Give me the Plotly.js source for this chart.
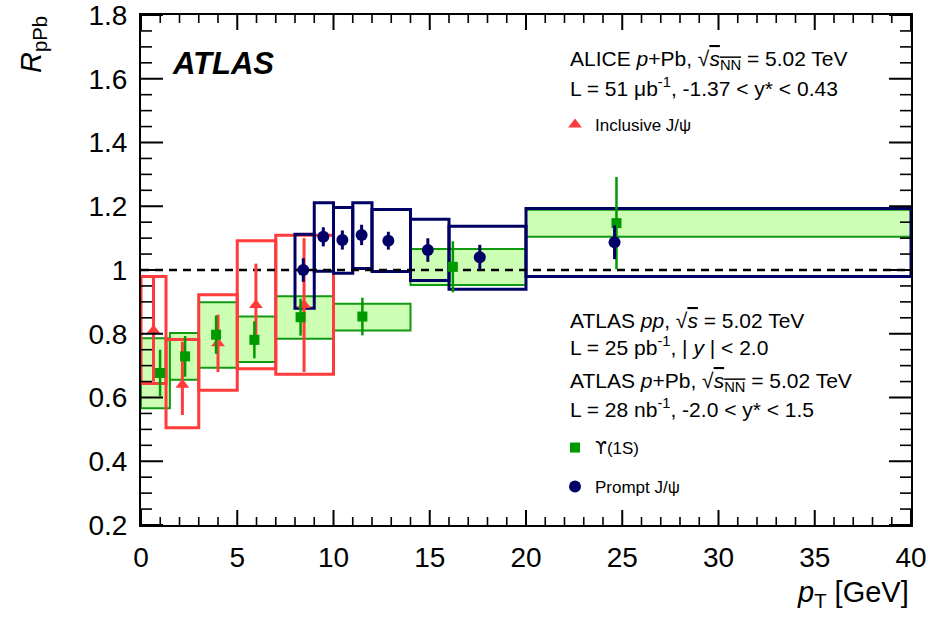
<!DOCTYPE html>
<html><head><meta charset="utf-8">
<script src="https://cdn.plot.ly/plotly-3.0.1.min.js"></script>
<style>body{margin:0;background:#fff}#chart{width:928px;height:618px}</style>
</head><body><div id="chart"></div>
<script>
// ALICE inclusive J/psi
const aliceX = [0.65, 2.15, 4.0, 5.97, 8.47];
const aliceY = [0.81, 0.64, 0.77, 0.89, 0.89];
const aliceErrUp = [0.17, 0.135, 0.09, 0.13, 0.21];
const aliceErrDn = [0.16, 0.095, 0.09, 0.125, 0.21];
const aliceBinLo = [0, 1.3, 3, 5, 7];
const aliceBinHi = [1.3, 3, 5, 7, 10];
const aliceSysHi = [0.98, 0.782, 0.922, 1.092, 1.109];
const aliceSysLo = [0.644, 0.505, 0.623, 0.69, 0.673];

// ATLAS Upsilon(1S)
const upsX = [0.99, 2.29, 3.9, 5.89, 8.29, 11.5, 16.2, 24.7];
const upsY = [0.677, 0.729, 0.797, 0.781, 0.852, 0.854, 1.01, 1.147];
const upsErr = [0.073, 0.064, 0.06, 0.058, 0.058, 0.059, 0.08, 0.145];
const upsBinLo = [0, 1.5, 3, 5, 7, 10, 14, 20];
const upsBinHi = [1.5, 3, 5, 7, 10, 14, 20, 40];
const upsSysHi = [0.786, 0.802, 0.899, 0.854, 0.918, 0.894, 1.066, 1.189];
const upsSysLo = [0.566, 0.656, 0.693, 0.711, 0.784, 0.81, 0.953, 1.104];

// ATLAS prompt J/psi
const jpsiX = [8.43, 9.47, 10.46, 11.46, 12.85, 14.9, 17.6, 24.6];
const jpsiY = [1.0, 1.104, 1.094, 1.11, 1.092, 1.0625, 1.04, 1.087];
const jpsiErr = [0.037, 0.03, 0.03, 0.032, 0.028, 0.037, 0.039, 0.053];
const jpsiBinLo = [8, 9, 10, 11, 12, 14, 16, 20];
const jpsiBinHi = [9, 10, 11, 12, 14, 16, 20, 40];
const jpsiSysHi = [1.1125, 1.211, 1.196, 1.211, 1.19, 1.159, 1.137, 1.193];
const jpsiSysLo = [0.88, 0.996, 0.99, 1.005, 0.995, 0.967, 0.94, 0.98];

// axes: tick values
const xMajorTicks = [0, 5, 10, 15, 20, 25, 30, 35, 40];
const xMinorTicks = [1, 2, 3, 4, 6, 7, 8, 9, 11, 12, 13, 14, 16, 17, 18, 19, 21, 22, 23, 24,
                     26, 27, 28, 29, 31, 32, 33, 34, 36, 37, 38, 39];
const yMajorTicks = [0.2, 0.4, 0.6, 0.8, 1, 1.2, 1.4, 1.6, 1.8];
const yMinorTicks = [0.25, 0.3, 0.35, 0.45, 0.5, 0.55, 0.65, 0.7, 0.75, 0.85, 0.9, 0.95,
                     1.05, 1.1, 1.15, 1.25, 1.3, 1.35, 1.45, 1.5, 1.55, 1.65, 1.7, 1.75];

const referenceY = 1;
const xRange = [0, 40];
const yRange = [0.2, 1.8000001];

const FONT = '"Liberation Sans", Arial, Helvetica, sans-serif';
const RED = '#ff3b3b', GREEN = '#119911', GREENFILL = '#ccffb3', NAVY = '#000066';

const L = 141, R = 17, T = 15, B = 93, W = 928, H = 618;
const pw = W - L - R, ph = H - T - B;
const px = v => (v - L) / pw;
const py = v => (H - B - v) / ph;

function boxes(lo, hi, top, bot, line, fill, width) {
  return lo.map((x0, i) => ({
    type: 'rect', xref: 'x', yref: 'y', layer: 'below',
    x0: x0, x1: hi[i], y0: bot[i], y1: top[i],
    line: {color: line, width: width},
    fillcolor: fill
  }));
}

const shapes = [].concat(
  boxes(upsBinLo, upsBinHi, upsSysHi, upsSysLo, GREEN, GREENFILL, 2),
  boxes(aliceBinLo, aliceBinHi, aliceSysHi, aliceSysLo, RED, 'rgba(0,0,0,0)', 3),
  boxes(jpsiBinLo, jpsiBinHi, jpsiSysHi, jpsiSysLo, NAVY, 'rgba(0,0,0,0)', 3),
  [{type: 'line', xref: 'x', yref: 'y', layer: 'below', x0: xRange[0], x1: xRange[1],
    y0: referenceY, y1: referenceY, line: {color: '#000', width: 2.5, dash: '8px,6px'}}]
);

// tick marks on all four sides (pointing into the frame), drawn as line segments
function tickTrace(xVals, yVals, xLenPx, yLenPx, width) {
  const dy = yLenPx / ph * (1.8 - yRange[0]);
  const dx = xLenPx / pw * (xRange[1] - xRange[0]);
  const xs = [], ys = [];
  xVals.forEach(v => {
    xs.push(v, v, null, v, v, null);
    ys.push(yRange[0], yRange[0] + dy, null, 1.8, 1.8 - dy, null);
  });
  yVals.forEach(v => {
    xs.push(xRange[0], xRange[0] + dx, null, xRange[1], xRange[1] - dx, null);
    ys.push(v, v, null, v, v, null);
  });
  return {x: xs, y: ys, type: 'scatter', mode: 'lines', showlegend: false, hoverinfo: 'skip',
          connectgaps: false, line: {color: '#000', width: width}};
}

const traces = [
  {x: aliceX, y: aliceY, type: 'scatter', mode: 'markers', name: 'Inclusive J/ψ',
   legend: 'legend',
   marker: {symbol: 'triangle-up', size: 12, color: RED},
   error_y: {type: 'data', symmetric: false, array: aliceErrUp, arrayminus: aliceErrDn,
             color: RED, thickness: 3, width: 0}},
  {x: upsX, y: upsY, type: 'scatter', mode: 'markers',
   name: '<span style="font-family:DejaVu Sans">ϒ</span>(1S)',
   legend: 'legend2',
   marker: {symbol: 'square', size: 10, color: '#009900'},
   error_y: {type: 'data', array: upsErr, color: '#009900', thickness: 2.5, width: 0}},
  {x: jpsiX, y: jpsiY, type: 'scatter', mode: 'markers', name: 'Prompt J/ψ',
   legend: 'legend3',
   marker: {symbol: 'circle', size: 12, color: NAVY},
   error_y: {type: 'data', array: jpsiErr, color: NAVY, thickness: 3, width: 0}},
  tickTrace(xMajorTicks, yMajorTicks, 22, 15, 2),
  tickTrace(xMinorTicks, yMinorTicks, 11, 8, 1.6)
];

function txt(text, xp, yp, size, extra) {
  return Object.assign({text: text, xref: 'paper', yref: 'paper', x: px(xp), y: py(yp),
    xanchor: 'left', yanchor: 'middle', showarrow: false,
    font: {family: FONT, size: size, color: '#000'}}, extra || {});
}

const sq = s => '√<span style="text-decoration:overline">' + s + '</span>';

const annotations = [
  txt('<b><i>ATLAS</i></b>', 170, 64, 31),
  txt('ALICE <i>p</i>+Pb, ' + sq('<i>s</i><sub>NN</sub>') + ' = 5.02 TeV', 568, 60, 21),
  txt('L = 51 μb<sup>-1</sup>, -1.37 &lt; y* &lt; 0.43', 568, 87, 21),
  txt('ATLAS <i>pp</i>, ' + sq('<i>s</i>') + ' = 5.02 TeV', 568, 320, 21),
  txt('L = 25 pb<sup>-1</sup>, | <i>y</i> | &lt; 2.0', 568, 346, 21),
  txt('ATLAS <i>p</i>+Pb, ' + sq('<i>s</i><sub>NN</sub>') + ' = 5.02 TeV', 568, 382, 21),
  txt('L = 28 nb<sup>-1</sup>, -2.0 &lt; y* &lt; 1.5', 568, 408, 21),
  txt('<i>R</i><sub>pPb</sub>', 33, 45, 29, {xanchor: 'center', textangle: -90}),
  txt('<i>p</i><sub>T</sub> [GeV]', 911, 594, 29, {xanchor: 'right'})
];

function leg(yc) {
  return {x: px(555), y: py(yc), xanchor: 'left', yanchor: 'middle',
    bgcolor: 'rgba(0,0,0,0)', borderwidth: 0,
    font: {family: FONT, size: 17, color: '#000'}};
}

const axisCommon = {
  showline: true, linecolor: '#000', linewidth: 2, mirror: true,
  ticks: '', showgrid: false, zeroline: false, fixedrange: true, ticklabeloverflow: 'allow',
  tickfont: {family: FONT, size: 28, color: '#000'}
};

const layout = {
  width: W, height: H,
  margin: {l: L, r: R, t: T, b: B, pad: 0},
  paper_bgcolor: '#fff', plot_bgcolor: '#fff',
  showlegend: true,
  legend: leg(125), legend2: leg(448), legend3: leg(487),
  xaxis: Object.assign({}, axisCommon, {range: xRange, tickmode: 'array', tickvals: xMajorTicks,
    ticklabelstandoff: 6}),
  yaxis: Object.assign({}, axisCommon, {range: yRange, tickmode: 'array', tickvals: yMajorTicks,
    ticklabelstandoff: 6}),
  shapes: shapes,
  annotations: annotations
};

Plotly.newPlot('chart', traces, layout, {staticPlot: true, displayModeBar: false});
</script>
</body></html>
